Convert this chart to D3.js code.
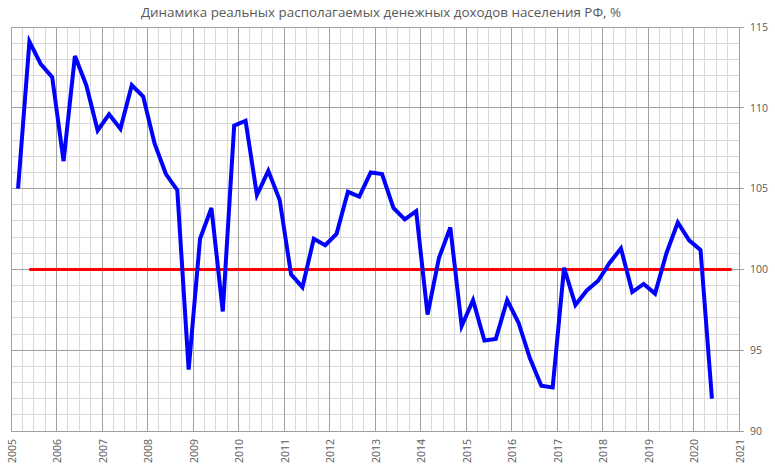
<!DOCTYPE html>
<html><head><meta charset="utf-8">
<script src="https://d3js.org/d3.v7.min.js"></script>
<style>body{margin:0;background:#fff;}svg{display:block;}</style>
</head><body>
<script>
// ---- data ----
const title = "Динамика реальных располагаемых денежных доходов населения РФ, %";
const firstYear = 2005;               // series starts 2005 Q1, quarterly
const values = [
  105.0, 114.1, 112.7, 111.9,   // 2005
  106.7, 113.2, 111.4, 108.6,   // 2006
  109.6, 108.7, 111.4, 110.7,   // 2007
  107.8, 105.9, 104.9, 93.8,    // 2008
  101.9, 103.8, 97.4, 108.9,    // 2009
  109.2, 104.6, 106.1, 104.3,   // 2010
  99.7, 98.9, 101.9, 101.5,     // 2011
  102.2, 104.8, 104.5, 106.0,   // 2012
  105.9, 103.8, 103.1, 103.6,   // 2013
  97.2, 100.7, 102.6, 96.5,     // 2014
  98.1, 95.6, 95.7, 98.1,       // 2015
  96.7, 94.5, 92.8, 92.7,       // 2016
  100.1, 97.8, 98.7, 99.3,      // 2017
  100.4, 101.3, 98.6, 99.1,     // 2018
  98.5, 101.0, 102.9, 101.8,    // 2019
  101.2, 92.0                   // 2020
];
const refValue = 100;
const refSpan = [2005.4, 2020.84];
const xTicks = d3.range(2005, 2022);
const yTicks = [90, 95, 100, 105, 110, 115];

// ---- layout ----
const W = 775, H = 469;
const svg = d3.select("body").append("svg").attr("width", W).attr("height", H);
const x = d3.scaleLinear().domain([2005, 2021]).range([11, 739]);
const y = d3.scaleLinear().domain([90, 115]).range([431, 27]);
const font = "'Open Sans', sans-serif";

// minor grid
const g = svg.append("g");
g.selectAll("line.vmin").data(d3.range(2005, 2021.001, 0.25)).join("line")
  .attr("x1", d => x(d)).attr("x2", d => x(d)).attr("y1", y(90)).attr("y2", y(115))
  .attr("stroke", "#d9d9d9").attr("stroke-width", 1).attr("shape-rendering", "crispEdges");
g.selectAll("line.hmin").data(d3.range(90, 115.001, 1)).join("line")
  .attr("x1", x(2005)).attr("x2", x(2021)).attr("y1", d => y(d)).attr("y2", d => y(d))
  .attr("stroke", "#d9d9d9").attr("stroke-width", 1).attr("shape-rendering", "crispEdges");
// major grid
g.selectAll("line.vmaj").data(xTicks).join("line")
  .attr("x1", d => x(d)).attr("x2", d => x(d)).attr("y1", y(90)).attr("y2", y(115))
  .attr("stroke", "#a0a0a0").attr("stroke-width", 1).attr("shape-rendering", "crispEdges");
g.selectAll("line.hmaj").data(yTicks).join("line")
  .attr("x1", x(2005)).attr("x2", x(2021) + 5).attr("y1", d => y(d)).attr("y2", d => y(d))
  .attr("stroke", "#a0a0a0").attr("stroke-width", 1).attr("shape-rendering", "crispEdges");

// axes text
const yAxis = d3.axisRight(y).tickValues(yTicks).tickSize(0).tickPadding(0);
const ya = svg.append("g").attr("transform", `translate(${x(2021) + 11},0)`).call(yAxis);
ya.select(".domain").remove();
ya.selectAll("text").attr("font-family", font).attr("font-size", "10.5px").attr("fill", "#595959");

const xAxis = d3.axisBottom(x).tickValues(xTicks).tickFormat(d3.format("d")).tickSize(0);
const xa = svg.append("g").attr("transform", `translate(0,${y(90)})`).call(xAxis);
xa.select(".domain").remove();
xa.selectAll("text")
  .attr("font-family", font).attr("font-size", "10.5px").attr("fill", "#595959")
  .attr("text-anchor", "end").attr("dy", null).attr("y", 0)
  .attr("transform", "translate(0,8) rotate(-90)")
  .attr("x", 0).attr("dominant-baseline", "central");

// reference line
svg.append("line")
  .attr("x1", x(refSpan[0])).attr("x2", x(refSpan[1]))
  .attr("y1", y(refValue)).attr("y2", y(refValue))
  .attr("stroke", "#ff0000").attr("stroke-width", 3);

// series
const pts = values.map((v, i) => [firstYear + i * 0.25 + 0.155, v]);
svg.append("path").datum(pts)
  .attr("d", d3.line().x(d => x(d[0])).y(d => y(d[1])))
  .attr("fill", "none").attr("stroke", "#0000ff").attr("stroke-width", 4)
  .attr("stroke-linejoin", "miter").attr("stroke-linecap", "butt");

// title
svg.append("text").attr("x", 381).attr("y", 17)
  .attr("text-anchor", "middle").attr("font-family", font).attr("font-size", "13.4px")
  .attr("fill", "#595959").text(title);
</script>
</body></html>
